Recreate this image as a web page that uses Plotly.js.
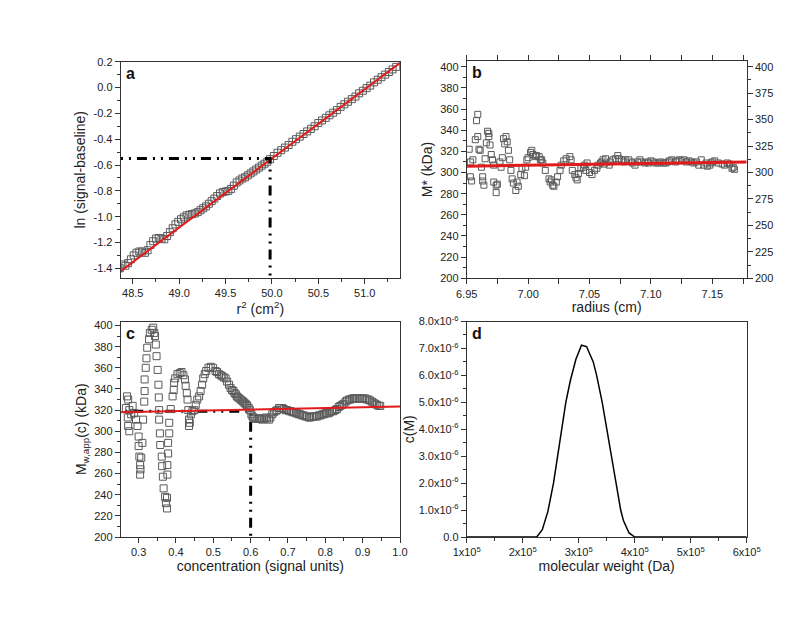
<!DOCTYPE html>
<html><head><meta charset="utf-8">
<script src="https://cdn.plot.ly/plotly-3.0.1.min.js"></script>
<style>html,body{margin:0;padding:0;background:#fff}#chart{width:800px;height:618px}</style>
</head><body><div id="chart"></div>
<script>
// Panel a: ln(signal-baseline) vs r^2
const aX = [48.33,48.36,48.39,48.42,48.45,48.48,48.51,48.54,48.57,48.60,48.63,48.66,48.69,48.72,48.75,48.78,48.81,48.84,48.87,48.90,48.93,48.96,48.99,49.02,49.05,49.08,49.11,49.14,49.17,49.20,49.23,49.26,49.29,49.32,49.35,49.38,49.41,49.44,49.47,49.50,49.53,49.56,49.59,49.62,49.65,49.68,49.71,49.74,49.77,49.80,49.83,49.86,49.89,49.92,49.95,49.98,50.02,50.06,50.10,50.14,50.18,50.22,50.26,50.30,50.34,50.38,50.42,50.46,50.50,50.54,50.58,50.62,50.66,50.70,50.74,50.78,50.82,50.86,50.90,50.94,50.98,51.02,51.06,51.10,51.14,51.18,51.22,51.26,51.30,51.34];
const aY = [-1.42,-1.40,-1.37,-1.38,-1.36,-1.33,-1.30,-1.28,-1.27,-1.27,-1.28,-1.26,-1.22,-1.19,-1.17,-1.165,-1.17,-1.175,-1.15,-1.12,-1.09,-1.06,-1.04,-1.02,-1.005,-0.99,-0.985,-0.98,-0.975,-0.965,-0.95,-0.935,-0.92,-0.90,-0.88,-0.86,-0.84,-0.82,-0.81,-0.805,-0.80,-0.785,-0.76,-0.735,-0.72,-0.705,-0.695,-0.68,-0.665,-0.65,-0.635,-0.62,-0.605,-0.59,-0.575,-0.555,-0.530,-0.505,-0.485,-0.465,-0.445,-0.42,-0.40,-0.38,-0.36,-0.34,-0.32,-0.30,-0.275,-0.255,-0.235,-0.215,-0.195,-0.175,-0.15,-0.13,-0.11,-0.09,-0.07,-0.045,-0.025,-0.005,0.015,0.04,0.06,0.08,0.10,0.12,0.14,0.16];
const aFitX = [48.33, 51.40];
const aFitY = [-1.443, 0.200];
const aGuideX = [48.2, 49.98, 49.98];
const aGuideY = [-0.55, -0.55, -1.6];

// Panel b: M* vs radius
const bX = [6.952,6.953,6.953,6.954,6.955,6.957,6.958,6.959,6.959,6.960,6.961,6.962,6.963,6.963,6.964,6.965,6.966,6.967,6.968,6.968,6.969,6.970,6.971,6.972,6.972,6.974,6.974,6.975,6.977,6.978,6.979,6.980,6.981,6.982,6.983,6.984,6.985,6.986,6.987,6.988,6.990,6.991,6.992,6.994,6.995,6.997,6.998,6.999,7.000,7.002,7.003,7.004,7.006,7.007,7.009,7.010,7.011,7.012,7.014,7.017,7.018,7.019,7.020,7.021,7.023,7.024,7.026,7.027,7.029,7.031,7.034,7.035,7.036,7.038,7.039,7.040,7.041,7.043,7.045,7.046,7.047,7.048,7.050,7.052,7.054,7.056,7.057,7.059,7.060,7.061,7.062,7.063,7.066,7.067,7.069,7.071,7.073,7.074,7.076,7.078,7.079,7.082,7.084,7.085,7.087,7.089,7.091,7.092,7.095,7.097,7.098,7.100,7.102,7.104,7.106,7.108,7.110,7.112,7.114,7.115,7.117,7.120,7.121,7.123,7.125,7.127,7.129,7.131,7.133,7.135,7.137,7.139,7.141,7.143,7.145,7.146,7.148,7.149,7.150,7.152,7.155,7.158,7.160,7.162,7.164,7.166,7.167,7.168];
const bY = [322,310,296,292,312,331,349,355,334,322,321,305,296,292,288,313,328,339,337,334,326,317,312,307,291,288,281,289,310,305,314,332,327,334,329,321,312,302,294,290,283,291,287,298,304,297,305,312,314,319,321,317,315,316,315,312,312,309,302,294,291,293,288,287,291,296,302,307,311,313,315,312,302,298,295,293,299,304,305,307,302,309,300,298,302,304,307,309,310,312,308,313,307,310,312,313,316,313,312,310,312,312,310,309,307,310,312,310,309,310,309,311,310,309,309,310,309,309,310,311,312,310,311,312,311,312,310,311,310,309,310,307,312,307,309,306,307,309,310,311,309,308,307,309,308,304,305,303];
const bFitX = [6.95, 7.178];
const bFitY = [306, 310];

// Panel c: Mw,app(c) vs concentration
const cX = [0.266,0.269,0.272,0.275,0.271,0.272,0.275,0.280,0.284,0.288,0.293,0.297,0.300,0.300,0.302,0.304,0.305,0.304,0.307,0.310,0.312,0.315,0.316,0.316,0.319,0.321,0.323,0.328,0.330,0.335,0.339,0.342,0.344,0.346,0.348,0.351,0.353,0.354,0.355,0.355,0.357,0.358,0.362,0.363,0.365,0.367,0.371,0.373,0.376,0.376,0.377,0.377,0.379,0.379,0.382,0.382,0.386,0.391,0.394,0.395,0.398,0.404,0.410,0.415,0.420,0.424,0.426,0.429,0.431,0.433,0.435,0.435,0.437,0.440,0.444,0.449,0.453,0.457,0.462,0.466,0.470,0.473,0.477,0.481,0.487,0.493,0.499,0.506,0.510,0.515,0.520,0.524,0.528,0.533,0.537,0.542,0.546,0.550,0.554,0.557,0.560,0.563,0.566,0.570,0.573,0.577,0.580,0.583,0.586,0.589,0.591,0.595,0.598,0.602,0.605,0.607,0.610,0.613,0.618,0.622,0.627,0.631,0.636,0.640,0.644,0.649,0.653,0.658,0.662,0.667,0.671,0.676,0.680,0.685,0.689,0.694,0.698,0.703,0.707,0.712,0.716,0.721,0.725,0.729,0.733,0.738,0.742,0.747,0.751,0.756,0.760,0.765,0.769,0.774,0.778,0.783,0.787,0.792,0.796,0.800,0.804,0.809,0.813,0.818,0.822,0.827,0.831,0.836,0.840,0.845,0.849,0.854,0.858,0.863,0.867,0.872,0.876,0.880,0.884,0.889,0.893,0.898,0.902,0.907,0.911,0.916,0.920,0.925,0.929,0.934,0.938,0.943,0.947,0.951,0.955,0.960];
const cY = [322,333,330,320,313,305,300,316,324,317,311,305,295,286,276,268,264,259,275,289,311,328,338,349,360,369,379,387,393,396,398,393,390,382,371,358,344,332,320,311,298,287,276,267,257,246,238,232,227,237,259,268,279,289,298,308,321,333,339,346,350,354,355,356,353,349,343,336,330,320,311,305,308,316,319,320,325,330,333,338,344,350,354,357,360,361,360,357,356,354,353,352,351,350,347,344,341,339,338,336,335,333,332,331,330,329,328,327,326,325,324,322,320,316,314,313,312,312,312,312,312,311,312,313,312,311,313,316,318,319,320,322,322,322,321,320,320,319,319,318,318,317,317,316,316,315,315,314,314,313,313,314,314,314,314,315,315,316,316,317,317,317,318,319,319,320,321,323,324,325,326,328,329,330,330,331,331,331,331,331,331,331,331,331,330,330,329,328,327,326,325,324,324];
const cFitX = [0.25, 1.0];
const cFitY = [318, 323.5];
const cGuideX = [0.2, 0.6, 0.6];
const cGuideY = [319, 319, 190];

// Panel d: c(M) distribution
const dX = [100000,225000,235000,245000,255000,262000,270000,277000,285000,295000,305000,314000,326000,332000,342000,350000,359000,367000,375000,380000,390000,400000,600000];
const dY = [0,0,0.27e-6,0.95e-6,2.0e-6,3.0e-6,4.0e-6,5.0e-6,5.8e-6,6.6e-6,7.12e-6,7.07e-6,6.5e-6,6.0e-6,5.0e-6,4.0e-6,3.0e-6,2.0e-6,1.0e-6,0.6e-6,0.15e-6,0,0];

// Tick labels
const aXTicks = [48.5,49.0,49.5,50.0,50.5,51.0];
const aXText = ['48.5','49.0','49.5','50.0','50.5','51.0'];
const aYTicks = [-1.4,-1.2,-1.0,-0.8,-0.6,-0.4,-0.2,0.0,0.2];
const aYText = ['-1.4','-1.2','-1.0','-0.8','-0.6','-0.4','-0.2','0.0','0.2'];
const bXTicks = [6.95,7.00,7.05,7.10,7.15];
const bXText = ['6.95','7.00','7.05','7.10','7.15'];
const bYTicks = [200,220,240,260,280,300,320,340,360,380,400];
const bY2Ticks = [200,225,250,275,300,325,350,375,400];
const cXTicks = [0.3,0.4,0.5,0.6,0.7,0.8,0.9,1.0];
const cXText = ['0.3','0.4','0.5','0.6','0.7','0.8','0.9','1.0'];
const cYTicks = [200,220,240,260,280,300,320,340,360,380,400];
const dXTicks = [100000,200000,300000,400000,500000,600000];
const dXText = ['1x10<sup>5</sup>','2x10<sup>5</sup>','3x10<sup>5</sup>','4x10<sup>5</sup>','5x10<sup>5</sup>','6x10<sup>5</sup>'];
const dYTicks = [0,1e-6,2e-6,3e-6,4e-6,5e-6,6e-6,7e-6,8e-6];
const dYText = ['0.0','1.0x10<sup>-6</sup>','2.0x10<sup>-6</sup>','3.0x10<sup>-6</sup>','4.0x10<sup>-6</sup>','5.0x10<sup>-6</sup>','6.0x10<sup>-6</sup>','7.0x10<sup>-6</sup>','8.0x10<sup>-6</sup>'];

const W = 800, H = 618;
const dx = (a,b) => [a/W, b/W];
const dy = (top,bot) => [1-bot/H, 1-top/H];
const RED = '#e31a1c';
const DASH = '10px,6px,2px,6px,2px,6px';
const mk = (size) => ({symbol:'square-open', size:size, color:'#5a5a5a', line:{width:1, color:'#5a5a5a'}});

const traces = [
  {x:aX, y:aY, xaxis:'x', yaxis:'y', mode:'markers', type:'scatter', marker:mk(7)},
  {x:aFitX, y:aFitY, xaxis:'x', yaxis:'y', mode:'lines', line:{color:RED, width:2}},
  {x:aGuideX, y:aGuideY, xaxis:'x', yaxis:'y', mode:'lines', line:{color:'#000', width:3, dash:DASH}},
  {x:bX, y:bY, xaxis:'x2', yaxis:'y2', mode:'markers', marker:mk(6)},
  {x:bFitX, y:bFitY, xaxis:'x2', yaxis:'y2', mode:'lines', line:{color:RED, width:3}},
  {x:[6.95], y:[200], xaxis:'x2', yaxis:'y5', mode:'markers', marker:{opacity:0}, hoverinfo:'skip'},
  {x:cGuideX, y:cGuideY, xaxis:'x3', yaxis:'y3', mode:'lines', line:{color:'#000', width:3, dash:DASH}},
  {x:cX, y:cY, xaxis:'x3', yaxis:'y3', mode:'markers', marker:mk(7)},
  {x:cFitX, y:cFitY, xaxis:'x3', yaxis:'y3', mode:'lines', line:{color:RED, width:2}},
  {x:dX, y:dY, xaxis:'x4', yaxis:'y4', mode:'lines', line:{color:'#000', width:1.5}}
];

const tf = {family:'"Liberation Sans", Arial, sans-serif', size:11, color:'#222'};
const ttf = {family:'"Liberation Sans", Arial, sans-serif', size:14, color:'#222'};
function ax(extra){
  return Object.assign({showline:true, linecolor:'#333', linewidth:1, mirror:true, ticks:'outside', ticklen:5, tickwidth:1, tickcolor:'#333',
    showgrid:false, zeroline:false, tickfont:tf, automargin:false, tickmode:'array',
    minor:{ticks:'outside', ticklen:3, tickcolor:'#333', showgrid:false}}, extra);
}
const lf = {family:'"Liberation Sans", Arial, sans-serif', size:16, color:'#111'};
const letter = (t, xr, yr) => ({text:'<b>'+t+'</b>', xref:xr+' domain', yref:yr+' domain', x:0.012, y:1.0, yshift:-1, xanchor:'left', yanchor:'top', showarrow:false, font:lf});
const layout = {
  width:W, height:H, margin:{l:0,r:0,t:0,b:0}, showlegend:false,
  paper_bgcolor:'#fff', plot_bgcolor:'#fff', font:tf,
  xaxis: ax({domain:dx(120.7,400), anchor:'y', range:[48.37,51.38], tickvals:aXTicks, ticktext:aXText, minor:{ticks:'outside',ticklen:3,tickcolor:'#333',tickvals:[48.75,49.25,49.75,50.25,50.75,51.25]},
    title:{text:'r<sup>2</sup> (cm<sup>2</sup>)', font:ttf, standoff:1}}),
  yaxis: ax({domain:dy(61.7,278), anchor:'x', range:[-1.475,0.2], tickvals:aYTicks, ticktext:aYText, minor:{ticks:'outside',ticklen:3,tickcolor:'#333',tickvals:[-1.3,-1.1,-0.9,-0.7,-0.5,-0.3,-0.1,0.1]},
    title:{text:'ln (signal-baseline)', font:ttf, standoff:4}}),
  xaxis2: ax({domain:dx(466.7,746.7), anchor:'y2', range:[6.95,7.178], tickvals:bXTicks, ticktext:bXText, mirror:'allticks', minor:{ticks:'outside',ticklen:3,tickcolor:'#333',tickvals:[6.975,7.025,7.075,7.125,7.175]},
    title:{text:'radius (cm)', font:ttf, standoff:1}}),
  yaxis2: ax({domain:dy(60.7,278.3), anchor:'x2', range:[200,405.7], tickvals:bYTicks, mirror:false, minor:{ticks:'outside',ticklen:3,tickcolor:'#333',tickvals:[210,230,250,270,290,310,330,350,370,390]},
    title:{text:'M* (kDa)', font:ttf, standoff:4}}),
  yaxis5: ax({domain:dy(60.7,278.3), anchor:'x2', overlaying:'y2', side:'right', range:[200,405.7], tickvals:bY2Ticks, mirror:false, minor:{ticks:'outside',ticklen:3,tickcolor:'#333',tickvals:[212.5,237.5,262.5,287.5,312.5,337.5,362.5,387.5]}}),
  xaxis3: ax({domain:dx(120.7,400), anchor:'y3', range:[0.252,1.0], tickvals:cXTicks, ticktext:cXText, minor:{ticks:'outside',ticklen:3,tickcolor:'#333',tickvals:[0.35,0.45,0.55,0.65,0.75,0.85,0.95]},
    title:{text:'concentration (signal units)', font:ttf, standoff:0}}),
  yaxis3: ax({domain:dy(321.5,537), anchor:'x3', range:[200,403.8], tickvals:cYTicks, minor:{ticks:'outside',ticklen:3,tickcolor:'#333',tickvals:[210,230,250,270,290,310,330,350,370,390]},
    title:{text:'M<sub>w,app</sub>(c) (kDa)', font:ttf, standoff:4}}),
  xaxis4: ax({domain:dx(466.7,746.7), anchor:'y4', range:[100000,600000], tickvals:dXTicks, ticktext:dXText, minor:{ticks:'outside',ticklen:3,tickcolor:'#333',tickvals:[150000,250000,350000,450000,550000]},
    title:{text:'molecular weight (Da)', font:ttf, standoff:0}}),
  yaxis4: ax({domain:dy(321.5,537), anchor:'x4', range:[0,8e-6], tickvals:dYTicks, ticktext:dYText, minor:{ticks:'outside',ticklen:3,tickcolor:'#333',tickvals:[0.5e-6,1.5e-6,2.5e-6,3.5e-6,4.5e-6,5.5e-6,6.5e-6,7.5e-6]},
    title:{text:'c(M)', font:ttf, standoff:0}}),
  annotations: [letter('a','x','y'), letter('b','x2','y2'), letter('c','x3','y3'), letter('d','x4','y4')]
};
Plotly.newPlot('chart', traces, layout, {displayModeBar:false, staticPlot:true});
</script></body></html>
